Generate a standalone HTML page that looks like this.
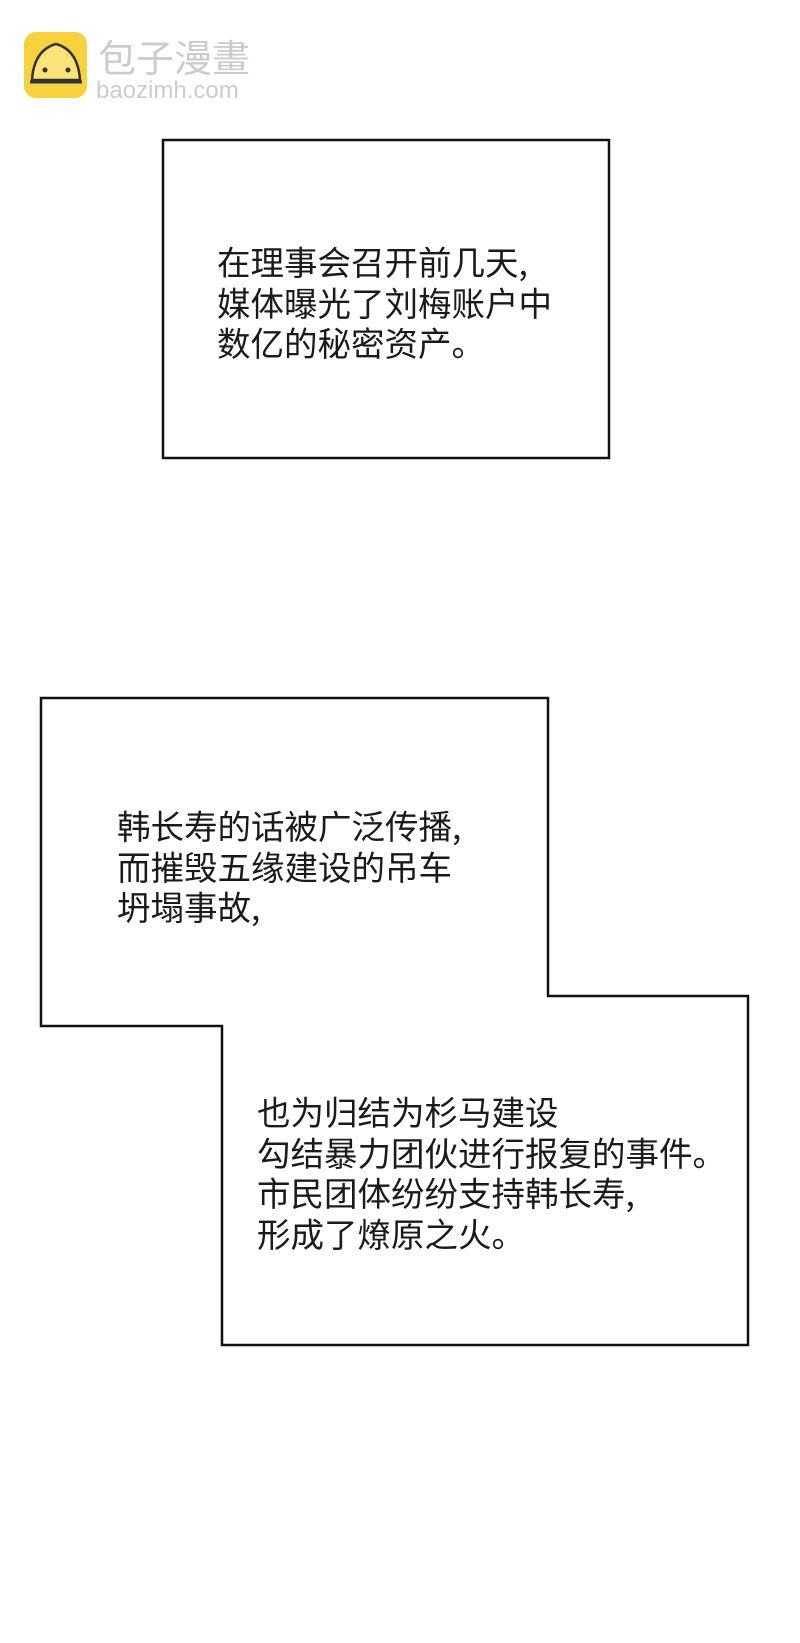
<!DOCTYPE html>
<html><head><meta charset="utf-8"><style>
html,body{margin:0;padding:0;background:#fff;}
body{width:800px;height:1643px;position:relative;overflow:hidden;font-family:"Liberation Sans","Noto Sans CJK SC",sans-serif;}
.t{position:absolute;font-size:33.5px;line-height:40.5px;color:#1a1a1a;white-space:nowrap;font-family:"Noto Sans CJK SC","WenQuanYi Zen Hei",sans-serif;font-weight:400;letter-spacing:0;}
</style></head><body>
<svg width="800" height="1643" style="position:absolute;left:0;top:0">
<rect x="24" y="32" width="63" height="66" rx="12" fill="#f7d23e"/>
<path d="M32 80 Q34 50 56 44 Q78 50 80 80 Z" fill="#fbe37a" stroke="#333" stroke-width="2.5"/>
<path d="M30 82 L82 82" stroke="#333" stroke-width="3"/>
<circle cx="45" cy="70" r="2.5" fill="#333"/><circle cx="68" cy="70" r="2.5" fill="#333"/>
<text x="98" y="72" font-size="38" fill="#ccc" font-family="Noto Sans CJK SC,sans-serif">包子漫畫</text>
<text x="96" y="98" font-size="24" fill="#ccc" font-family="Liberation Sans,sans-serif">baozimh.com</text>
<rect x="163" y="140" width="446" height="318" fill="#fff" stroke="#111" stroke-width="2.5"/>
<path d="M41 698 L548 698 L548 996 L748 996 L748 1345 L222 1345 L222 1026 L41 1026 Z" fill="#fff" stroke="#111" stroke-width="2.5"/>
</svg>
<div class="t" style="left:217px;top:241px">在理事会召开前几天,<br>媒体曝光了刘梅账户中<br>数亿的秘密资产。</div>
<div class="t" style="left:117px;top:805px">韩长寿的话被广泛传播,<br>而摧毁五缘建设的吊车<br>坍塌事故,</div>
<div class="t" style="left:257px;top:1091px">也为归结为杉马建设<br>勾结暴力团伙进行报复的事件。<br>市民团体纷纷支持韩长寿,<br>形成了燎原之火。</div>
</body></html>
